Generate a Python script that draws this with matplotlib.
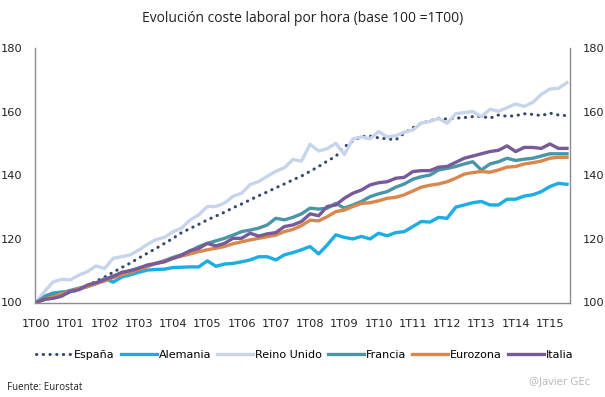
import matplotlib
matplotlib.use("Agg")
import matplotlib.pyplot as plt

# trimestres 1T00 .. 3T15
quarters = ["%dT%02d" % (q, y) for y in range(0, 16) for q in range(1, 5)][:63]
tick_labels = ["1T%02d" % y for y in range(0, 16)]

espana = [100, 100.8, 101.6, 102.4, 103.2, 104, 105.3, 106.7, 108, 109.5,
          111, 112.4, 114, 115.5, 117, 118.6, 120.2, 122, 123.3, 124.6,
          126, 127.2, 128.4, 129.8, 131, 132.3, 133.6, 134.8, 136.1, 137.3,
          138.6, 139.8, 141.3, 142.8, 144.5, 146, 149, 150.8, 152.2, 152.4,
          151.8, 151.5, 151.2, 153.3, 155, 156.4, 157.2, 158, 157.7, 158,
          158.2, 158.5, 158.6, 158, 159, 158.6, 158.8, 159.4, 159.2, 158.8,
          159.6, 159, 158.8]
alemania = [100, 102, 103, 103.3, 103.5, 104.3, 105, 106, 107.5, 106.4,
            108, 108.7, 109.5, 110.2, 110.4, 110.5, 111, 111.1, 111.2, 111.2,
            113.1, 111.4, 112.1, 112.3, 112.8, 113.4, 114.4, 114.4, 113.4, 115,
            115.7, 116.6, 117.6, 115.3, 118.1, 121.3, 120.5, 120, 120.8, 120,
            121.8, 121, 122, 122.3, 123.9, 125.5, 125.3, 126.8, 126.5, 130,
            130.7, 131.4, 131.8, 130.7, 130.7, 132.5, 132.5, 133.5, 133.9, 134.9,
            136.5, 137.5, 137.2]
reino_unido = [100, 103.5, 106.5, 107.3, 107.1, 108.6, 109.7, 111.5, 110.7, 113.9,
               114.4, 115, 116.5, 118.3, 119.8, 120.5, 122.3, 123.4, 126, 127.6,
               130.2, 130.2, 131.3, 133.4, 134.4, 137.1, 138.1, 139.7, 141.3, 142.4,
               145, 144.5, 149.8, 147.7, 148.4, 150.1, 146.6, 151.5, 152.1, 151.5,
               153.8, 152.1, 152.5, 153.6, 154.3, 156.5, 157, 157.9, 156.4, 159.4,
               159.8, 160.1, 158.5, 160.8, 160.2, 161.3, 162.5, 161.7, 163, 165.5,
               167.2, 167.4, 169.2]
francia = [100, 101.8, 102.5, 103, 103.8, 104.5, 105.2, 106, 107.2, 108.3,
           109.2, 110, 110.8, 111.5, 112.3, 113.2, 114.2, 115, 116.2, 117.6,
           118.6, 119.4, 120.2, 121.2, 122.3, 122.8, 123.4, 124.4, 126.5, 126,
           126.8, 127.9, 129.7, 129.4, 129.7, 131.2, 129.7, 130.7, 131.8, 133.3,
           134.2, 134.9, 136.3, 137.3, 138.8, 139.6, 140.1, 141.7, 142.2, 142.8,
           143.6, 144.3, 141.7, 143.6, 144.3, 145.4, 144.7, 145.1, 145.4, 146.1,
           146.8, 146.8, 146.8]
eurozona = [100, 101, 101.8, 102.7, 103.5, 104.3, 105, 105.9, 106.8, 107.8,
            108.7, 109.5, 110.4, 111.3, 112.3, 113, 113.9, 114.6, 115.3, 116,
            116.6, 117.1, 117.6, 118.5, 119.1, 119.7, 120.2, 120.7, 121.2, 122.3,
            123, 124.2, 125.9, 125.7, 127, 128.6, 129.1, 130.2, 131.2, 131.4,
            132, 132.8, 133.1, 133.9, 135.1, 136.3, 136.9, 137.3, 138, 139.1,
            140.4, 140.9, 141.2, 141, 141.7, 142.6, 142.8, 143.6, 144, 144.5,
            145.4, 145.7, 145.7]
italia = [100, 101, 101.3, 102, 103.5, 104, 105.5, 106.2, 107.2, 108.2,
          109.5, 110, 110.8, 111.8, 112.3, 112.8, 113.9, 114.9, 116.3, 117,
          118.6, 117.8, 118.6, 120.2, 120.2, 121.8, 120.9, 121.6, 122, 123.9,
          124.4, 125.5, 127.9, 127.3, 130.2, 130.7, 132.8, 134.4, 135.4, 137,
          137.7, 138, 139.1, 139.4, 141.2, 141.5, 141.5, 142.6, 142.8, 144.1,
          145.4, 146.1, 146.8, 147.5, 147.9, 149.3, 147.5, 148.8, 148.8, 148.5,
          149.9, 148.5, 148.5]

series = [
    ("España", espana, "#34486b"),
    ("Alemania", alemania, "#1cade4"),
    ("Reino Unido", reino_unido, "#c7d5ec"),
    ("Francia", francia, "#4a96a6"),
    ("Eurozona", eurozona, "#d9874a"),
    ("Italia", italia, "#775a98"),
]

fig = plt.figure(figsize=(6.05, 3.97), dpi=100)
ax = fig.add_axes([35 / 605, 1 - 302.5 / 397, 535 / 605, 254.2 / 397])

x = list(range(len(quarters)))
for name, vals, col in series:
    if name == "España":
        ax.plot(x, vals, color=col, lw=2.2, linestyle=(0, (0.1, 2.1)),
                dash_capstyle="round", label=name)
    else:
        ax.plot(x, vals, color=col, lw=2.4, label=name, solid_joinstyle="round")

ax.set_xlim(-0.12, 62.35)
ax.set_ylim(100, 180)
ax.set_yticks([100, 120, 140, 160, 180])
ax.set_xticks(range(0, 61, 4))
ax.set_xticklabels(tick_labels)
ax.tick_params(axis="both", length=0, labelsize=8.2, colors="#222222")
ax.tick_params(axis="y", pad=9, labelright=True, right=False)
ax.tick_params(axis="x", pad=12)

ax.spines["top"].set_visible(False)
for s in ["left", "right", "bottom"]:
    ax.spines[s].set_color("#8c8c8c")
    ax.spines[s].set_linewidth(1.0)

fig.text(0.5, 1 - 19 / 397, "Evolución coste laboral por hora (base 100 =1T00)",
         ha="center", va="center", fontsize=10, family="Open Sans", color="#222222")

fig.legend(loc="center", bbox_to_anchor=(305 / 605, 1 - 355 / 397), ncol=6,
           frameon=False, fontsize=8, handlelength=3.2, handletextpad=0.2,
           columnspacing=0.55, borderaxespad=0)

fig.text(7 / 605, 1 - 388 / 397, "Fuente: Eurostat", ha="left", va="center",
         fontsize=7, family="Open Sans", color="#222222")
fig.text(590 / 605, 1 - 382 / 397, "@Javier GEc", ha="right", va="center",
         fontsize=8, family="Open Sans", color="#b8b8b8")

fig.savefig("out.png", dpi=100)
